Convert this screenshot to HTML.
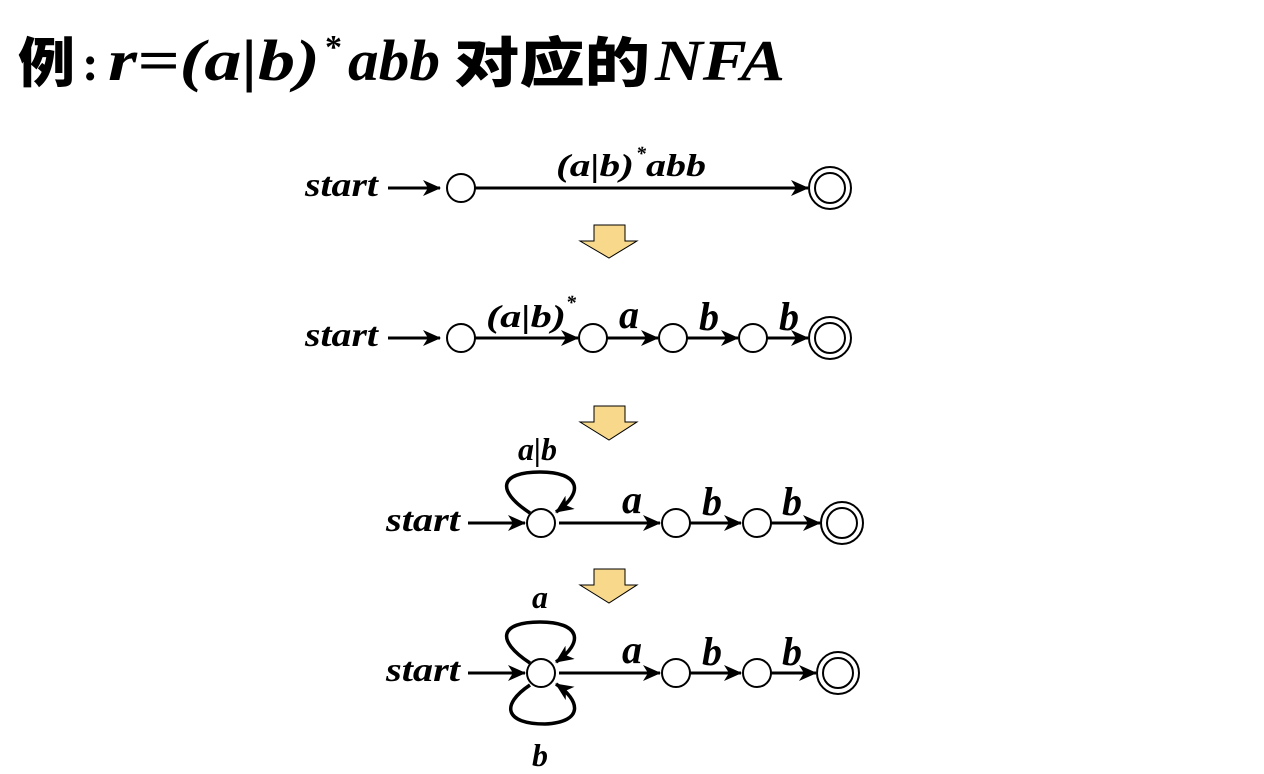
<!DOCTYPE html>
<html><head><meta charset="utf-8"><style>
html,body{margin:0;padding:0;background:#fff;width:1264px;height:774px;overflow:hidden}
svg{display:block}
.lb{font-family:"Liberation Serif",serif;font-style:italic;font-weight:bold;fill:#000}
.ti{font-family:"Liberation Serif",serif;font-style:italic;font-weight:bold;fill:#000}
</style></head><body>
<svg width="1264" height="774" viewBox="0 0 1264 774">
<defs>
<marker id="ahb" markerWidth="18" markerHeight="16" refX="17" refY="8" orient="auto" markerUnits="userSpaceOnUse" viewBox="0 0 18 16">
<path d="M0,0 L18,8 L0,16 L5,8 Z" fill="#000"/></marker>
</defs>
<g>
<text x="18" y="82" font-family="'Noto Sans CJK SC',sans-serif" font-weight="900" font-size="54" textLength="57" lengthAdjust="spacingAndGlyphs">例</text>
<text x="82" y="80" font-family="'Liberation Serif',serif" font-weight="bold" font-size="50">:</text>
<text class="ti" x="108" y="80" font-size="58" textLength="212" lengthAdjust="spacingAndGlyphs">r=(a|b)</text>
<text x="325" y="58" font-family="'Liberation Serif',serif" font-weight="bold" font-size="34">*</text>
<text class="ti" x="348" y="80" font-size="58" textLength="92" lengthAdjust="spacingAndGlyphs">abb</text>
<text x="454" y="82" font-family="'Noto Sans CJK SC',sans-serif" font-weight="900" font-size="54" textLength="196" lengthAdjust="spacingAndGlyphs">对应的</text>
<text class="ti" x="655" y="80" font-size="58" textLength="130" lengthAdjust="spacingAndGlyphs">NFA</text>
</g>
<g stroke="#000" stroke-width="3" fill="none">
<line x1="388" y1="188" x2="440" y2="188" marker-end="url(#ahb)"/>
<line x1="475" y1="188" x2="808" y2="188" marker-end="url(#ahb)"/>
<line x1="388" y1="338" x2="440" y2="338" marker-end="url(#ahb)"/>
<line x1="475" y1="338" x2="578" y2="338" marker-end="url(#ahb)"/>
<line x1="607" y1="338" x2="658" y2="338" marker-end="url(#ahb)"/>
<line x1="687" y1="338" x2="738" y2="338" marker-end="url(#ahb)"/>
<line x1="767" y1="338" x2="808" y2="338" marker-end="url(#ahb)"/>
<line x1="468" y1="523" x2="525" y2="523" marker-end="url(#ahb)"/>
<line x1="559" y1="523" x2="660" y2="523" marker-end="url(#ahb)"/>
<line x1="690" y1="523" x2="741" y2="523" marker-end="url(#ahb)"/>
<line x1="771" y1="523" x2="820" y2="523" marker-end="url(#ahb)"/>
<path d="M530,513 C495,490 500,472 540,472 C580,472 585,492 556,512" stroke-width="3.5" marker-end="url(#ahb)"/>
<line x1="468" y1="673" x2="525" y2="673" marker-end="url(#ahb)"/>
<line x1="559" y1="673" x2="660" y2="673" marker-end="url(#ahb)"/>
<line x1="690" y1="673" x2="741" y2="673" marker-end="url(#ahb)"/>
<line x1="771" y1="673" x2="816" y2="673" marker-end="url(#ahb)"/>
<path d="M530,663 C495,640 500,622 540,622 C580,622 585,642 556,662" stroke-width="3.5" marker-end="url(#ahb)"/>
<path d="M530,685 C500,705 505,724 545,724 C585,722 580,700 556,684" stroke-width="3.5" marker-end="url(#ahb)"/>
</g>
<g stroke="#000" stroke-width="2" fill="#fff">
<circle cx="461" cy="188" r="14"/><circle cx="830" cy="188" r="21"/><circle cx="830" cy="188" r="15"/>
<circle cx="461" cy="338" r="14"/><circle cx="593" cy="338" r="14"/><circle cx="673" cy="338" r="14"/><circle cx="753" cy="338" r="14"/>
<circle cx="830" cy="338" r="21"/><circle cx="830" cy="338" r="15"/>
<circle cx="541" cy="523" r="14"/><circle cx="676" cy="523" r="14"/><circle cx="757" cy="523" r="14"/>
<circle cx="842" cy="523" r="21"/><circle cx="842" cy="523" r="15"/>
<circle cx="541" cy="673" r="14"/><circle cx="676" cy="673" r="14"/><circle cx="757" cy="673" r="14"/>
<circle cx="838" cy="673" r="21"/><circle cx="838" cy="673" r="15"/>
</g>
<g fill="#f8d88a" stroke="#000" stroke-width="1">
<path d="M594,225 H625 V241 H637 L609,258 L580,241 H594 Z"/>
<path d="M594,406 H625 V422 H637 L609,440 L580,422 H594 Z"/>
<path d="M594,569 H625 V585 H637 L609,603 L580,585 H594 Z"/>
</g>
<g class="lb">
<text x="305" y="196" font-size="34" textLength="73" lengthAdjust="spacingAndGlyphs">start</text>
<text x="305" y="346" font-size="34" textLength="73" lengthAdjust="spacingAndGlyphs">start</text>
<text x="386" y="531" font-size="34" textLength="74" lengthAdjust="spacingAndGlyphs">start</text>
<text x="386" y="681" font-size="34" textLength="74" lengthAdjust="spacingAndGlyphs">start</text>
<text x="556" y="176" font-size="32" textLength="78" lengthAdjust="spacingAndGlyphs">(a|b)</text>
<text x="636" y="160" font-size="20">*</text>
<text x="646" y="176" font-size="32" textLength="60" lengthAdjust="spacingAndGlyphs">abb</text>
<text x="486" y="327" font-size="32" textLength="80" lengthAdjust="spacingAndGlyphs">(a|b)</text>
<text x="566" y="309" font-size="20">*</text>
<text x="619" y="328" font-size="40">a</text>
<text x="699" y="330" font-size="40">b</text>
<text x="779" y="330" font-size="40">b</text>
<text x="518" y="460" font-size="32">a|b</text>
<text x="622" y="513" font-size="40">a</text>
<text x="702" y="515" font-size="40">b</text>
<text x="782" y="515" font-size="40">b</text>
<text x="532" y="608" font-size="32">a</text>
<text x="532" y="766" font-size="32">b</text>
<text x="622" y="663" font-size="40">a</text>
<text x="702" y="665" font-size="40">b</text>
<text x="782" y="665" font-size="40">b</text>
</g>
</svg>
</body></html>
